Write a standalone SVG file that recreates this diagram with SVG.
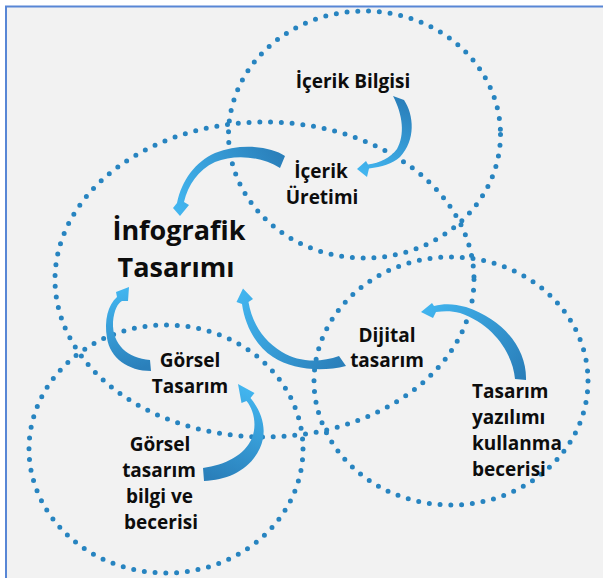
<svg xmlns="http://www.w3.org/2000/svg" width="603" height="578" viewBox="0 0 603 578">
<style>
.ring{fill:none;stroke:#2784c0;stroke-width:5;stroke-linecap:round;stroke-dasharray:0 10.8}
.lbl{font-family:"Open Sans","Noto Sans","Liberation Sans",sans-serif;font-weight:700;font-size:19px;fill:#0d0d0d;text-anchor:middle}
.big{font-size:27px}
.left{text-anchor:start}
</style>
<defs>
<linearGradient id="g1" gradientUnits="userSpaceOnUse" x1="398" y1="98" x2="360" y2="170"><stop offset="0" stop-color="#2a7fba"/><stop offset="1" stop-color="#42b5ef"/></linearGradient>
<linearGradient id="g2" gradientUnits="userSpaceOnUse" x1="284" y1="162" x2="180" y2="214"><stop offset="0" stop-color="#2a7fba"/><stop offset="1" stop-color="#42b5ef"/></linearGradient>
<linearGradient id="g3" gradientUnits="userSpaceOnUse" x1="150" y1="366" x2="128" y2="288"><stop offset="0" stop-color="#2a7fba"/><stop offset="1" stop-color="#42b5ef"/></linearGradient>
<linearGradient id="g4" gradientUnits="userSpaceOnUse" x1="343" y1="362" x2="243" y2="290"><stop offset="0" stop-color="#2a7fba"/><stop offset="1" stop-color="#42b5ef"/></linearGradient>
<linearGradient id="g5" gradientUnits="userSpaceOnUse" x1="520" y1="380" x2="422" y2="311"><stop offset="0" stop-color="#2a7fba"/><stop offset="1" stop-color="#42b5ef"/></linearGradient>
<linearGradient id="g6" gradientUnits="userSpaceOnUse" x1="204" y1="475" x2="240" y2="386"><stop offset="0" stop-color="#2a7fba"/><stop offset="1" stop-color="#42b5ef"/></linearGradient>
</defs>
<rect x="0" y="0" width="603" height="578" fill="#ffffff"/>
<rect x="6" y="6.5" width="640" height="640" fill="#f2f2f2" stroke="#5886d5" stroke-width="2"/>

<g id="regions">
<ellipse id="ring-icerik-bilgisi" class="ring" cx="364.5" cy="134.5" rx="136" ry="123.5"/>
<ellipse id="ring-infografik" class="ring" cx="264.5" cy="279.5" rx="209.5" ry="157.5"/>
<ellipse id="ring-gorsel" class="ring" cx="166" cy="449" rx="137" ry="124"/>
<ellipse id="ring-yazilim" class="ring" cx="451" cy="381" rx="137" ry="124"/>
</g>

<g id="connectors">
<path id="a1" fill="url(#g1)" d="M393 96 L404 100 C414 115 416 140 400 157 C392 164 382 167 369 168.5 L367 177 L357 169 L366 161 L368 164.5 C380 163 390 158 397 149 C405 135 403 115 393 96 Z"/>
<path id="a2" fill="url(#g2)" d="M285 156 C270 146 240 143 215 153 C195 162 182 180 177 203 L173 208 L180 216 L189 205 L184 202 C188 185 198 170 215 162 C235 154 260 156 280 168 Z"/>
<path id="a3" fill="url(#g3)" d="M150 360 C128 358 112 345 113 322 C114 310 118 303 122 301 L128 301 L129 287 L116 292 L117 297 C108 305 104 320 107 338 C110 358 128 371 151 371 Z"/>
<path id="a4" fill="url(#g4)" d="M339 356 C320 363 298 362 282 352 C262 340 252 322 248.5 302 L253 299 L243 288.5 L236.5 302 L242 304 C245 325 255 345 273 357 C293 370 322 372 346 366 Z"/>
<path id="a5" fill="url(#g5)" d="M515 379 C513 355 495 325 460 313 C452 311 445 311 436 312 L433 318 L421 312 L432 303 L434 306 C445 303 455 304 466 307 C505 320 527 350 526 380 Z"/>
<path id="a6" fill="url(#g6)" d="M203 468 C225 465 245 455 252 438 C257 425 254 410 246.5 401 L241.5 403 L238 384 L254.5 393 L250.5 398 C262 412 268 430 260 448 C250 470 228 480 204 481 Z"/>
</g>

<g id="node-icerik-bilgisi"><text class="lbl" x="353" y="88">İçerik Bilgisi</text></g>
<g id="node-icerik-uretimi"><text class="lbl" x="321" y="178">İçerik</text><text class="lbl" x="322" y="204">Üretimi</text></g>
<g id="node-infografik"><text class="lbl big" x="179" y="240">İnfografik</text><text class="lbl big" x="176" y="277">Tasarımı</text></g>
<g id="node-gorsel-tasarim"><text class="lbl" x="190" y="367">Görsel</text><text class="lbl" x="190" y="393">Tasarım</text></g>
<g id="node-dijital"><text class="lbl" x="387" y="342">Dijital</text><text class="lbl" x="387" y="367">tasarım</text></g>
<g id="node-gorsel-bilgi"><text class="lbl" x="160" y="451">Görsel</text><text class="lbl" x="159" y="477">tasarım</text><text class="lbl" x="159.5" y="503">bilgi ve</text><text class="lbl" x="161" y="529">becerisi</text></g>
<g id="node-yazilim"><text class="lbl left" x="472" y="398">Tasarım</text><text class="lbl left" x="472" y="424">yazılımı</text><text class="lbl left" x="472" y="450">kullanma</text><text class="lbl left" x="472" y="476">becerisi</text></g>
</svg>
